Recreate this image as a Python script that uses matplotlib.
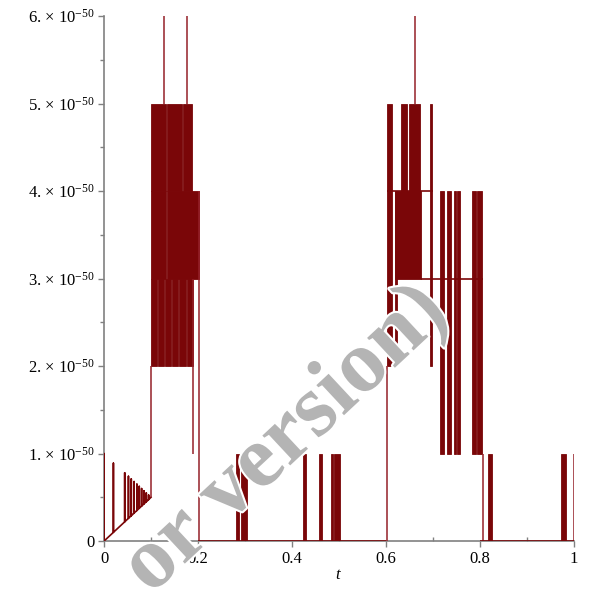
import matplotlib
matplotlib.use("Agg")
import matplotlib.pyplot as plt
import matplotlib.patheffects as pe
from matplotlib.ticker import MultipleLocator, FuncFormatter

# Values are in units of 1e-50.
RED = "#7a0608"
THIN = "#942028"

# Ramp between t = 0 and t = 0.1: spike positions, base and top of each spike.
ramp_t = [0.0, 0.02, 0.044, 0.052, 0.058, 0.064, 0.070, 0.075, 0.080, 0.085, 0.090, 0.095, 0.1]
ramp_low = [0.0, 0.10, 0.22, 0.26, 0.29, 0.32, 0.35, 0.375, 0.40, 0.425, 0.45, 0.475, 0.5]
ramp_top = [1.0, 0.89, 0.78, 0.74, 0.71, 0.68, 0.65, 0.625, 0.60, 0.575, 0.55, 0.525, 0.5]

# Dense oscillation blocks: start, end, low level, high level.
block_t0 = [0.100, 0.134, 0.100, 0.134, 0.169,
            0.100, 0.115, 0.130, 0.145, 0.160, 0.177,
            0.603, 0.620, 0.619, 0.633, 0.649, 0.694,
            0.715, 0.731, 0.744, 0.752, 0.784, 0.794,
            0.280, 0.292, 0.423, 0.457, 0.484, 0.490, 0.817, 0.972]
block_t1 = [0.131, 0.203, 0.131, 0.165, 0.187,
            0.113, 0.128, 0.143, 0.158, 0.175, 0.190,
            0.612, 0.623, 0.674, 0.644, 0.672, 0.699,
            0.724, 0.738, 0.750, 0.758, 0.792, 0.804,
            0.287, 0.304, 0.430, 0.463, 0.488, 0.502, 0.826, 0.984]
block_lo = [3, 3, 4, 4, 4,
            2, 2, 2, 2, 2, 2,
            2, 2, 3, 4, 4, 2,
            1, 1, 1, 1, 1, 1,
            0, 0, 0, 0, 0, 0, 0, 0]
block_hi = [4, 4, 5, 5, 5,
            3, 3, 3, 3, 3, 3,
            5, 4, 4, 5, 5, 5,
            4, 4, 4, 4, 4, 4,
            1, 1, 1, 1, 1, 1, 1, 1]

# Single vertical strokes: position, bottom, top.
line_t = [0.100, 0.128, 0.177, 0.189, 0.202, 0.603, 0.662, 0.807, 1.0]
line_lo = [0.5, 5, 5, 1, 0, 0, 5, 0, 0]
line_hi = [2, 6, 6, 3, 4, 2, 6, 1, 1]

# Flat connecting runs: level, start, end.
flat_y = [0, 0, 4, 3]
flat_t0 = [0.2, 0.8, 0.603, 0.674]
flat_t1 = [0.6, 1.0, 0.700, 0.807]

y_ticks = [0, 1, 2, 3, 4, 5, 6]
x_ticks = [0, 0.2, 0.4, 0.6, 0.8, 1]

plt.rcParams["font.family"] = ["Liberation Serif", "DejaVu Serif"]
plt.rcParams["mathtext.fontset"] = "custom"
plt.rcParams["mathtext.rm"] = "Liberation Serif"
plt.rcParams["mathtext.it"] = "Liberation Serif:italic"

fig = plt.figure(figsize=(5.91, 5.92), dpi=100)
ax = fig.add_axes([0.176, 0.086, 0.795, 0.887])

# Ramp: up each spike, back down, on along the base.
xs, ys = [], []
for t, lo, hi in zip(ramp_t, ramp_low, ramp_top):
    xs += [t, t, t]
    ys += [lo, hi, lo]
ax.plot(xs, ys, color=RED, lw=1.2, zorder=3)

ax.bar(block_t0, [h - l for h, l in zip(block_hi, block_lo)],
       width=[b - a for a, b in zip(block_t0, block_t1)], bottom=block_lo,
       align="edge", color=RED, edgecolor=RED, linewidth=0.6, zorder=3)
ax.vlines(line_t, line_lo, line_hi, color=THIN, lw=1.1, zorder=3)
ax.hlines(flat_y, flat_t0, flat_t1, color=RED, lw=1.2, zorder=3)

ax.set_xlim(0, 1)
ax.set_ylim(0, 6)
for side in ["top", "right"]:
    ax.spines[side].set_visible(False)
for side in ["left", "bottom"]:
    ax.spines[side].set_color("#808080")
    ax.spines[side].set_linewidth(1.2)

ax.set_yticks(y_ticks)
ax.yaxis.set_major_formatter(FuncFormatter(
    lambda v, p: "0" if v == 0 else "%d. \u00d7 10$^{-50}$" % v))
ax.yaxis.set_minor_locator(MultipleLocator(0.5))
ax.set_xticks(x_ticks)
ax.set_xticklabels(["0", "0.2", "0.4", "0.6", "0.8", "1"])
ax.xaxis.set_minor_locator(MultipleLocator(0.1))
ax.tick_params(axis="both", which="major", labelsize=12, color="#808080",
               length=4, width=1, pad=3)
ax.tick_params(axis="y", which="minor", color="#808080", length=3, width=1)
ax.tick_params(axis="x", which="minor", direction="in", color="#808080",
               length=3, width=1)
ax.set_xlabel("$t$", fontsize=12, labelpad=0)

fig.text(0.484, 0.257, "or version)", rotation=43, fontsize=64,
         fontweight="bold", color="#b4b4b4", ha="center", va="center",
         zorder=10, path_effects=[pe.withStroke(linewidth=3, foreground="white")])

fig.savefig("out.png", dpi=100)
